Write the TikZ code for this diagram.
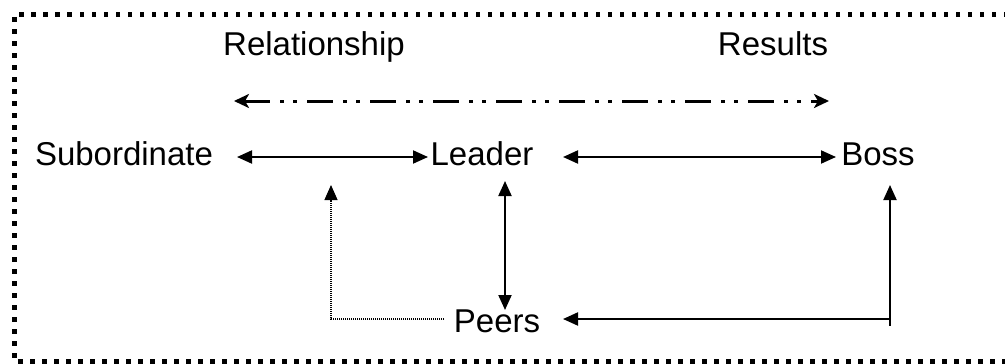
\documentclass[tikz,border=0pt]{standalone}
\usepackage{fontspec}
\setmainfont{Liberation Sans}
\usetikzlibrary{arrows.meta,calc}
\begin{document}
\begin{tikzpicture}[x=1pt,y=-1pt,
  lbl/.style={anchor=base,inner sep=0pt,font=\fontsize{33}{38}\selectfont},
  conn/.style={line width=2pt,{Triangle[length=15pt,width=13pt]}-{Triangle[length=15pt,width=13pt]}},
  dotconn/.style={line width=1.2pt,dash pattern=on 1pt off 1pt,-{Triangle[length=15pt,width=13pt]}},
  dda/.style={line width=3pt,dash pattern=on 26pt off 10pt on 4pt off 9pt on 4pt off 10pt,
    {Stealth[length=15pt,width=14pt,inset=4pt]}-{Stealth[length=15pt,width=14pt,inset=4pt]}},
  frame/.style={line width=4.5pt,dash pattern=on 4.5pt off 7.5pt}]
\useasboundingbox (0,0) rectangle (1005,364);
% frame
\draw[frame] (1020,14.5) -- (14.5,14.5) -- (14.5,361.5) -- (1020,361.5);
% labels
\node[lbl] (rel) at (314,55) {Relationship};
\node[lbl] (res) at (773,55) {Results};
\node[lbl] (sub) at (124,165) {Subordinate};
\node[lbl] (lead) at (482,165) {Leader};
\node[lbl] (boss) at (878,165) {Boss};
\node[lbl] (peers) at (497,332) {Peers};
% top dash-dot arrow
\coordinate (ddl) at (234,101);
\coordinate (ddr) at (829,101);
\draw[dda] (ddl) -- (ddr);
% middle row
\draw[conn] ($(sub.base)+(113,-8)$) -- ($(lead.base)+(-54,-8)$);
\draw[conn] ($(lead.base)+(81,-8)$) -- ($(boss.base)+(-42,-8)$);
% leader <-> peers
\draw[conn] ($(lead.base)+(23,16)$) -- ($(peers.base)+(8,-22)$);
% dotted from peers
\coordinate (dtip) at (331,185);
\draw[dotconn] ($(peers.base)+(-53,-13)$) -| (dtip);
% boss <-> peers
\draw[conn] ($(boss.base)+(12,20)$) |- ($(peers.base)+(66,-13)$);
\draw[line width=2pt] ($(boss.base)+(12,153)$) -- ++(0,8);
\end{tikzpicture}
\end{document}
